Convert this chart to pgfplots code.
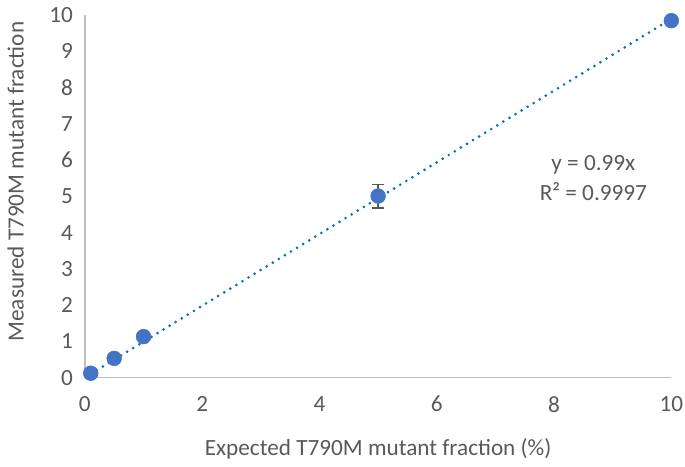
\documentclass[border=0pt]{standalone}
\usepackage{pgfplots}
\pgfplotsset{compat=1.18}
\usepackage{fontspec}
\setmainfont{Carlito}
\definecolor{txtgray}{HTML}{595959}
\definecolor{axgray}{HTML}{BFBFBF}
\definecolor{mark}{HTML}{4472C4}
\definecolor{trend}{HTML}{0070C0}
\begin{document}
\fontsize{17}{20}\selectfont
\begin{tikzpicture}
\begin{axis}[
  scale only axis,
  width=437pt, height=270pt,
  xmin=0, xmax=10, ymin=0, ymax=10,
  xtick={0,2,...,10}, ytick={0,1,...,10},
  axis lines*=left,
  axis line style={axgray, line width=1pt, -},
  major tick length=0pt,
  tick label style={txtgray, font=\fontsize{17.3}{20}\selectfont},
  /pgf/number format/assume math mode=true,
  xticklabel style={yshift=-8pt, inner xsep=0pt},
  yticklabel style={xshift=-3pt},
  xlabel={Expected T790M mutant fraction (\%)},
  ylabel={Measured T790M mutant fraction},
  label style={txtgray, font=\fontsize{17.3}{20}\selectfont},
  xlabel style={yshift=-8pt},
  ylabel style={xshift=11pt, yshift=7.5pt},
  clip=false,
]
\addplot[trend, line width=2.2pt, line cap=round, dash pattern=on 0pt off 5.3pt] coordinates {(0.1,0.099) (10,9.9)};
\addplot[only marks, mark=*, mark size=5.5pt, mark options={fill=mark, draw=mark},
  error bars/.cd, y dir=both, y explicit,
  error bar style={txtgray, line width=1.3pt},
  error mark options={rotate=90, mark size=4.5pt, txtgray, line width=1.3pt}]
  coordinates {
  (0.1,0.12) +- (0,0)
  (0.5,0.53) +- (0,0)
  (1,1.13) +- (0,0)
  (5,5.01) +- (0,0.32)
  (10,9.85) +- (0,0)
};
\node[txtgray, align=center, font=\fontsize{17.3}{22}\selectfont] at (axis cs:8.67,5.5) {y = 0.99x\\R² = 0.9997};
\end{axis}
\end{tikzpicture}
\end{document}
